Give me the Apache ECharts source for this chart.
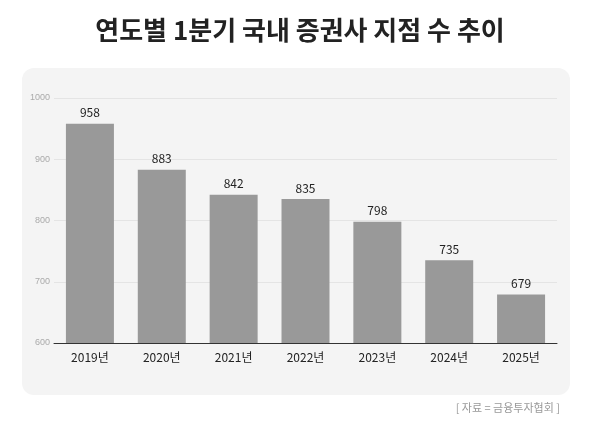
<!DOCTYPE html>
<html><head><meta charset="utf-8">
<script src="https://cdn.jsdelivr.net/npm/echarts@6/dist/echarts.min.js"></script>
<style>html,body{margin:0;padding:0;background:#fff}#c{width:600px;height:421px}</style>
</head><body><div id="c"></div>
<script>
const categories = ['2019년','2020년','2021년','2022년','2023년','2024년','2025년'];
const values = [958,883,842,835,798,735,679];
const chart = echarts.init(document.getElementById('c'));
chart.setOption({
  backgroundColor:'#fff',
  title:{text:'연도별 1분기 국내 증권사 지점 수 추이',left:'center',top:12,
    textStyle:{fontFamily:'Noto Sans CJK KR',fontSize:26,fontWeight:'bold',color:'#222'}},
  graphic:[
    {type:'rect',z:-10,shape:{x:22,y:68,width:548,height:327,r:12},style:{fill:'#f4f4f4'}},
    {type:'text',right:40,top:402,style:{text:'[ 자료 = 금융투자협회 ]',fill:'#999',font:'11px "Noto Sans CJK KR"'}}
  ],
  grid:{left:54,right:43,top:98,bottom:78},
  xAxis:{type:'category',data:categories,axisTick:{show:false},
    axisLine:{lineStyle:{color:'#333'}},
    axisLabel:{color:'#222',fontSize:12,fontFamily:'Noto Sans CJK KR',margin:8}},
  yAxis:{type:'value',min:600,max:1000,interval:100,
    axisLabel:{color:'#aaa',fontSize:9,margin:4,formatter:v=>String(v)},
    splitLine:{lineStyle:{color:'#e4e4e4'}}},
  series:[{type:'bar',data:values,barWidth:48,itemStyle:{color:'#999999'},
    label:{show:true,position:'top',color:'#222',fontSize:12,fontFamily:'Noto Sans CJK KR'}}]
});
</script></body></html>
